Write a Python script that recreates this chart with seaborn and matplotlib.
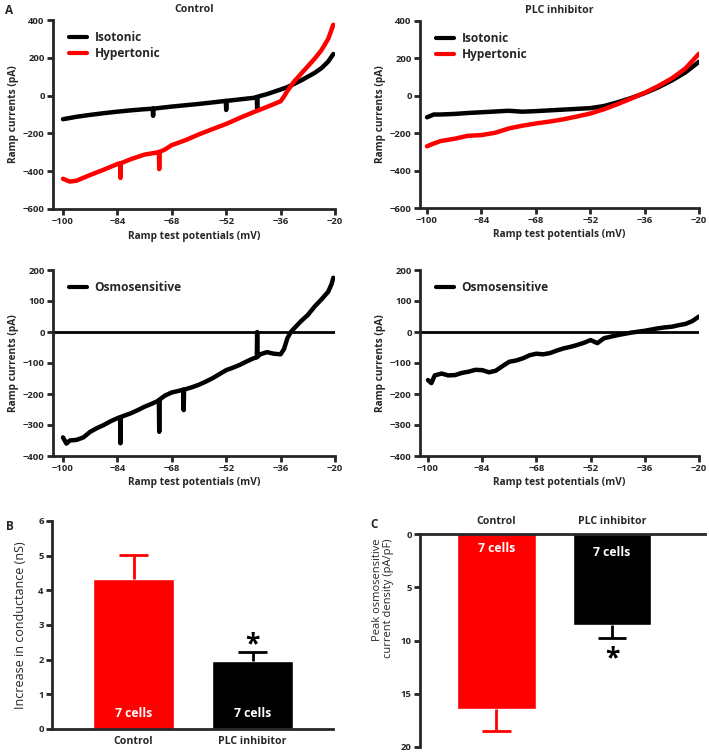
import matplotlib
matplotlib.use("Agg")
import matplotlib.pyplot as plt
import seaborn as sns
import pandas as pd

# ---------------- data ----------------
iso_ctl_v = [-100, -96, -92, -88, -84, -80, -76, -73.6, -73.5, -73.4, -72, -68, -64, -60, -56,
             -52.1, -52, -51.9, -48, -44, -43.0, -42.9, -42.8, -40, -38, -36, -34, -32, -30, -28,
             -26, -24, -22, -20.5]
iso_ctl_i = [-125, -112, -102, -93, -85, -78, -72, -69, -107, -69, -66, -58, -51, -44, -36,
             -28, -76, -28, -20, -12, -8, -67, -6, 8, 20, 32, 45, 62, 80, 100,
             120, 145, 180, 220]
hyp_ctl_v = [-100, -98, -96, -92, -88, -84, -83.2, -83.1, -83.0, -80, -76, -72, -71.8, -71.7, -71.6,
             -70, -68, -64, -60, -56, -52, -48, -44, -40, -36, -35, -34, -32, -30, -28, -26,
             -24, -22, -20.5]
hyp_ctl_i = [-440, -455, -450, -420, -392, -362, -358, -436, -358, -336, -312, -300, -298, -389, -298,
             -285, -262, -236, -205, -177, -150, -118, -88, -60, -30, -5, 25, 75, 115, 155, 195,
             240, 300, 375]

iso_plc_v = [-100, -98, -96, -92, -88, -84, -80, -76, -72, -68, -64, -60, -56, -52, -48, -44,
             -40, -36, -32, -28, -24, -20]
iso_plc_i = [-115, -100, -100, -97, -92, -88, -84, -80, -85, -82, -78, -74, -70, -66, -55, -35,
             -12, 14, 45, 82, 125, 182]
hyp_plc_v = [-100, -98, -96, -92, -88, -84, -80, -76, -72, -68, -64, -60, -56, -52, -48, -44,
             -40, -36, -32, -28, -24, -20]
hyp_plc_i = [-270, -255, -242, -230, -214, -210, -198, -175, -160, -148, -138, -126, -111, -95, -72, -45,
             -15, 16, 52, 93, 146, 225]

osm_ctl_v = [-100, -99, -98, -96, -94, -92, -90, -88, -86, -84, -83.2, -83.1, -83.0, -82, -80, -78,
             -76, -74, -72, -71.8, -71.7, -71.6, -70, -68, -66, -64.6, -64.5, -64.4, -62, -60, -58,
             -56, -54, -52, -50, -48, -46, -44, -43.0, -42.9, -42.8, -42, -40, -38, -36, -35, -34,
             -33, -32, -30, -28, -26, -24, -22, -21, -20.5]
osm_ctl_i = [-340, -360, -350, -348, -340, -322, -310, -300, -288, -278, -275, -359, -274, -270, -262, -252,
             -241, -232, -222, -220, -322, -218, -205, -195, -190, -186, -252, -186, -178, -170, -160,
             -149, -136, -123, -115, -106, -95, -85, -82, 0, -80, -72, -65, -70, -72, -55, -20,
             0, 12, 35, 55, 82, 105, 130, 155, 175]
osm_plc_v = [-100, -99, -98, -96, -94, -92, -90, -88, -86, -84, -82, -80, -78, -76, -74, -72, -70,
             -68, -66, -64, -62, -60, -58, -56, -54, -52, -50, -48, -46, -44, -42, -40, -38, -36,
             -34, -32, -30, -28, -26, -24, -22, -20]
osm_plc_i = [-155, -165, -140, -134, -140, -139, -132, -128, -122, -123, -130, -125, -110, -96, -92, -85, -75,
             -70, -72, -68, -60, -53, -48, -42, -35, -26, -36, -20, -15, -10, -6, -2, 1, 4,
             8, 12, 15, 17, 22, 26, 35, 50]

groups = ["Control", "PLC inhibitor"]
cond_mean = [4.33, 1.97]
cond_err = [0.69, 0.26]
dens_mean = [16.4, 8.5]
dens_err = [2.1, 1.3]
n_label = ["7 cells", "7 cells"]

xticks_mv = [-100, -84, -68, -52, -36, -20]
RED = "#ff0000"
BLACK = "#000000"

# ---------------- style ----------------
sns.set_style("ticks")
plt.rcParams['font.family'] = ['Open Sans', 'DejaVu Sans']
plt.rcParams['font.weight'] = 'bold'
plt.rcParams['axes.labelweight'] = 'bold'
plt.rcParams['axes.unicode_minus'] = True

TICK_FS = 6.8
LAB_FS = 7.3
LEG_FS = 8.6
CELL_FS = 8.8
BAR_LAB_FS = 9.0
C_LAB_FS = 8.0

fig = plt.figure(figsize=(7.09, 7.53), dpi=100)
W, H = 709, 753


def add_ax(l, t, r, b):
    return fig.add_axes([l / W, 1 - b / H, (r - l) / W, (b - t) / H])


def style_axes(ax, show_bottom=True, show_top=False):
    for s in ["top", "right", "bottom", "left"]:
        ax.spines[s].set_visible(False)
    ax.spines["left"].set_visible(True)
    ax.spines["left"].set_linewidth(2)
    if show_bottom:
        ax.spines["bottom"].set_visible(True)
        ax.spines["bottom"].set_linewidth(2)
    if show_top:
        ax.spines["top"].set_visible(True)
        ax.spines["top"].set_linewidth(2)
    ax.tick_params(axis="both", direction="out", length=4, width=2, labelsize=TICK_FS, pad=2)
    for lab in ax.get_xticklabels() + ax.get_yticklabels():
        lab.set_fontweight("bold")


def trace_panel(ax, series, ylim, yticks, xlim, title=None, zero_line=False):
    for v, i, col, lab in series:
        df = pd.DataFrame({"v": v, "i": i})
        sns.lineplot(data=df, x="v", y="i", color=col, lw=3.2, sort=False, estimator=None,
                     label=lab, ax=ax)
    if zero_line:
        ax.axhline(0, color=BLACK, lw=2, zorder=0)
    ax.set_xlim(*xlim)
    ax.set_ylim(*ylim)
    ax.set_yticks(yticks)
    ax.set_xticks(xticks_mv)
    ax.set_xticklabels([str(t).replace("-", "\u2212") for t in xticks_mv])
    ax.set_yticklabels([str(t).replace("-", "\u2212") for t in yticks])
    ax.set_xlabel("Ramp test potentials (mV)", fontsize=LAB_FS, fontweight="bold", labelpad=3)
    ax.set_ylabel("Ramp currents (pA)", fontsize=LAB_FS, fontweight="bold", labelpad=3)
    style_axes(ax)
    leg = ax.legend(loc="upper left", bbox_to_anchor=(0.02, 1.0), frameon=False,
                    handlelength=1.45, handletextpad=0.65, labelspacing=0.25,
                    prop={"weight": "bold", "size": LEG_FS})
    for h in leg.get_lines():
        h.set_linewidth(3)
    if title:
        ax.set_title(title, fontsize=LAB_FS + 0.4, fontweight="bold", pad=6)


def bar_errors(ax, means, errs, colors, half):
    for k, (m, e, c) in enumerate(zip(means, errs, colors)):
        ax.vlines(k, m, m + e, color=c, lw=2, zorder=1)
        ax.hlines(m + e, k - half, k + half, color=c, lw=2, zorder=1)


# ---- Panel A ----
ax1 = add_ax(53, 20, 335, 209)
trace_panel(ax1, [(iso_ctl_v, iso_ctl_i, BLACK, "Isotonic"),
                  (hyp_ctl_v, hyp_ctl_i, RED, "Hypertonic")],
            (-600, 400), list(range(-600, 401, 200)), (-102.94, -20), title="Control")

ax2 = add_ax(420, 21, 699, 208)
trace_panel(ax2, [(iso_plc_v, iso_plc_i, BLACK, "Isotonic"),
                  (hyp_plc_v, hyp_plc_i, RED, "Hypertonic")],
            (-600, 400), list(range(-600, 401, 200)), (-102.06, -20), title="PLC inhibitor")

ax3 = add_ax(53, 270, 335, 456)
trace_panel(ax3, [(osm_ctl_v, osm_ctl_i, BLACK, "Osmosensitive")],
            (-400, 200), list(range(-400, 201, 100)), (-102.94, -20), zero_line=True)

ax4 = add_ax(420, 270, 699, 456)
trace_panel(ax4, [(osm_plc_v, osm_plc_i, BLACK, "Osmosensitive")],
            (-400, 200), list(range(-400, 201, 100)), (-102.35, -20), zero_line=True)

# ---- Panel B ----
axB = add_ax(52, 521, 333, 729)
dfB = pd.DataFrame({"g": groups, "m": cond_mean})
sns.barplot(data=dfB, x="g", y="m", hue="g", palette=[RED, BLACK], width=0.68,
            legend=False, ax=axB, errorbar=None, saturation=1)
bar_errors(axB, cond_mean, cond_err, [RED, BLACK], 0.122)
for k in range(2):
    axB.text(k, 0.46, n_label[k], color="white", ha="center", va="center",
             fontsize=CELL_FS, fontweight="bold")
axB.text(1, 2.42, "*", ha="center", va="center", fontsize=19, fontweight="bold", color=BLACK)
axB.set_xlim(-0.685, 1.676)
axB.set_ylim(0, 6)
axB.set_yticks(range(0, 7))
axB.set_xlabel("")
axB.set_ylabel("Increase in conductance (nS)", fontsize=BAR_LAB_FS, fontweight="normal")
axB.yaxis.set_label_coords(-0.09, 0.5)
style_axes(axB)
axB.tick_params(axis="x", length=0, pad=5, labelsize=LAB_FS + 0.3)
for lab in axB.get_xticklabels():
    lab.set_fontweight("bold")

# ---- Panel C ----
axC = add_ax(420, 534, 705, 747)
dfC = pd.DataFrame({"g": groups, "m": dens_mean})
sns.barplot(data=dfC, x="g", y="m", hue="g", palette=[RED, BLACK], width=0.68,
            legend=False, ax=axC, errorbar=None, saturation=1)
bar_errors(axC, dens_mean, dens_err, [RED, BLACK], 0.125)
axC.text(0, 1.4, n_label[0], color="white", ha="center", va="center", fontsize=CELL_FS, fontweight="bold")
axC.text(1, 1.7, n_label[1], color="white", ha="center", va="center", fontsize=CELL_FS, fontweight="bold")
axC.text(1, 11.7, "*", ha="center", va="center", fontsize=19, fontweight="bold", color=BLACK)
axC.set_xlim(-0.662, 1.805)
axC.set_ylim(20, 0)
axC.set_yticks([0, 5, 10, 15, 20])
axC.xaxis.tick_top()
axC.set_xlabel("")
axC.set_ylabel("Peak osmosensitive\ncurrent density (pA/pF)", fontsize=C_LAB_FS,
               fontweight="normal", linespacing=1.1, multialignment="right")
axC.yaxis.set_label_coords(-0.09, 0.70)
style_axes(axC, show_bottom=False, show_top=True)
axC.tick_params(axis="x", length=0, pad=5, labelsize=LAB_FS + 0.3)
for lab in axC.get_xticklabels():
    lab.set_fontweight("bold")

# ---- panel letters ----
fig.text(5 / W, 1 - 10 / H, "A", fontsize=8.5, fontweight="bold", va="center")
fig.text(6 / W, 1 - 527 / H, "B", fontsize=8.5, fontweight="bold", va="center")
fig.text(370 / W, 1 - 525 / H, "C", fontsize=8.5, fontweight="bold", va="center")

fig.savefig("out.png", dpi=100)
